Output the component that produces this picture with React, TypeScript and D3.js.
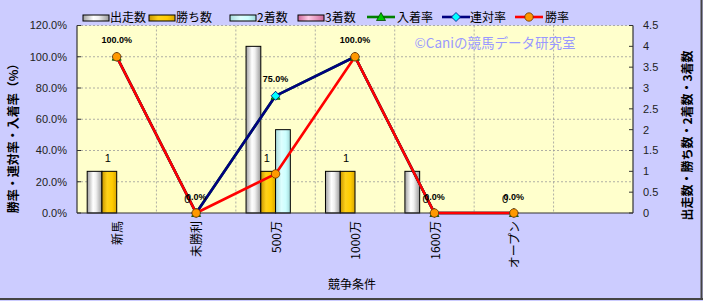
import React from "react";
import * as d3 from "d3";

const categories = ["新馬", "未勝利", "500万", "1000万", "1600万", "オープン", ""];
const startsCount = [1, 0, 4, 1, 1, 0, null];
const winsCount = [1, 0, 1, 1, 0, 0, null];
const secondCount = [0, 0, 2, 0, 0, 0, null];
const thirdCount = [0, 0, 0, 0, 0, 0, null];
const placeRate = [100, 0, 75, 100, 0, 0, null];
const quinellaRate = [100, 0, 75, 100, 0, 0, null];
const winRate = [100, 0, 25, 100, 0, 0, null];
const leftTicks = [0, 20, 40, 60, 80, 100, 120];
const rightTicks = [0, 0.5, 1, 1.5, 2, 2.5, 3, 3.5, 4, 4.5];

const W = 703;
const H = 301;
const L = 77;
const R = 633;
const T = 25.5;
const B = 213;

const JP = "'MS PGothic','Noto Sans CJK JP',sans-serif";
const NUM = "'Liberation Sans',Arial,sans-serif";

export default function App() {
  const x = d3.scaleBand<string>().domain(categories.map((c, i) => String(i))).range([L, R]).padding(0);
  const bw = x.bandwidth();
  const barSeries = ["s", "w", "2", "3"];
  const inner = d3.scaleBand<string>().domain(barSeries).range([0, bw]).paddingInner(0).paddingOuter(0.69);
  const yL = d3.scaleLinear().domain([0, 120]).range([B, T]);
  const yR = d3.scaleLinear().domain([0, 4.5]).range([B, T]);
  const cx = (i: number) => (x(String(i)) as number) + bw / 2;

  const barData = [
    { key: "s", vals: startsCount, fill: "url(#gWhite)" },
    { key: "w", vals: winsCount, fill: "url(#gGold)" },
    { key: "2", vals: secondCount, fill: "url(#gCyan)" },
    { key: "3", vals: thirdCount, fill: "url(#gPink)" },
  ];

  const lineGen = d3
    .line<number | null>()
    .defined((d) => d !== null)
    .x((_, i) => cx(i))
    .y((d) => yL(d as number));

  const lines = [
    { vals: placeRate, color: "#008000", marker: "tri" },
    { vals: quinellaRate, color: "#000080", marker: "dia" },
    { vals: winRate, color: "#FF0000", marker: "circ" },
  ];

  const marker = (type: string, px: number, py: number, key: string) => {
    if (type === "tri")
      return <path key={key} d={`M${px},${py - 4.5}L${px + 4.5},${py + 3.5}L${px - 4.5},${py + 3.5}Z`} fill="#00CC00" stroke="#004400" strokeWidth={0.8} />;
    if (type === "dia")
      return <path key={key} d={`M${px},${py - 4.5}L${px + 4.5},${py}L${px},${py + 4.5}L${px - 4.5},${py}Z`} fill="#00FFFF" stroke="#000080" strokeWidth={0.8} />;
    return <circle key={key} cx={px} cy={py} r={4.2} fill="#FF9900" stroke="#663300" strokeWidth={0.8} />;
  };

  const legendBars = [
    { x: 83, tx: 110, label: "出走数", fill: "url(#gWhite)" },
    { x: 149, tx: 176, label: "勝ち数", fill: "url(#gGold)" },
    { x: 230, tx: 257, label: "2着数", fill: "url(#gCyan)" },
    { x: 298, tx: 325, label: "3着数", fill: "url(#gPink)" },
  ];
  const legendLines = [
    { x: 367, tx: 397, label: "入着率", color: "#008000", marker: "tri" },
    { x: 442, tx: 470, label: "連対率", color: "#000080", marker: "dia" },
    { x: 515, tx: 545, label: "勝率", color: "#FF0000", marker: "circ" },
  ];
  const ly = 18;

  return (
    <svg width={W} height={H} style={{ position: "absolute", left: 0, top: 0 }}>
      <defs>
        <linearGradient id="gWhite" x1="0" x2="1" y1="0" y2="0">
          <stop offset="0" stopColor="#A0A0A0" />
          <stop offset="0.4" stopColor="#FFFFFF" />
          <stop offset="0.6" stopColor="#F0F0F0" />
          <stop offset="1" stopColor="#9A9A9A" />
        </linearGradient>
        <linearGradient id="gGold" x1="0" x2="1" y1="0" y2="0">
          <stop offset="0" stopColor="#C89600" />
          <stop offset="0.35" stopColor="#FFD21A" />
          <stop offset="0.7" stopColor="#FFCC00" />
          <stop offset="1" stopColor="#D9A600" />
        </linearGradient>
        <linearGradient id="gCyan" x1="0" x2="1" y1="0" y2="0">
          <stop offset="0" stopColor="#A8DCDC" />
          <stop offset="0.4" stopColor="#DDFFFF" />
          <stop offset="0.7" stopColor="#CCFFFF" />
          <stop offset="1" stopColor="#A0D8D8" />
        </linearGradient>
        <linearGradient id="gPink" x1="0" x2="1" y1="0" y2="0">
          <stop offset="0" stopColor="#CC6699" />
          <stop offset="0.4" stopColor="#FFCCE6" />
          <stop offset="1" stopColor="#CC6699" />
        </linearGradient>
      </defs>

      <rect x={0} y={0} width={W} height={H} fill="#CCCCFF" />
      <line x1={W - 1.5} y1={0} x2={W - 1.5} y2={H - 1} stroke="#444" strokeWidth={2} />
      <line x1={0} y1={H - 2} x2={W} y2={H - 2} stroke="#444" strokeWidth={2} />

      <rect x={L} y={T} width={R - L} height={B - T} fill="#FFFFCC" />

      {leftTicks.filter((t) => t > 0).map((t) => (
        <line key={"hg" + t} x1={L} x2={R} y1={yL(t)} y2={yL(t)} stroke="#9A9A9A" strokeWidth={0.8} strokeDasharray="2,2" />
      ))}
      {categories.slice(1).map((_, i) => {
        const gx = x(String(i + 1)) as number;
        return <line key={"vg" + i} x1={gx} x2={gx} y1={T} y2={B} stroke="#9A9A9A" strokeWidth={0.8} strokeDasharray="2,2" />;
      })}

      {barData.map((s) =>
        s.vals.map((v, i) => {
          if (v === null || v === 0) return null;
          const bx = (x(String(i)) as number) + (inner(s.key) as number);
          return (
            <rect key={s.key + i} x={bx} y={yR(v)} width={inner.bandwidth()} height={B - yR(v)} fill={s.fill} stroke="#000" strokeWidth={1} />
          );
        })
      )}

      <line x1={L} x2={L} y1={T} y2={B} stroke="#333" strokeWidth={1.2} />
      <line x1={R} x2={R} y1={T} y2={B} stroke="#333" strokeWidth={1.2} />
      <line x1={L} x2={R} y1={B} y2={B} stroke="#333" strokeWidth={1.2} />
      {leftTicks.map((t) => (
        <line key={"lt" + t} x1={L} x2={L + 4} y1={yL(t)} y2={yL(t)} stroke="#333" />
      ))}
      {rightTicks.map((t) => (
        <line key={"rt" + t} x1={R - 4} x2={R} y1={yR(t)} y2={yR(t)} stroke="#333" />
      ))}

      {lines.map((s, k) => (
        <path key={"ln" + k} d={lineGen(s.vals) || ""} fill="none" stroke={s.color} strokeWidth={2.6} strokeLinejoin="round" />
      ))}
      {lines.map((s, k) => s.vals.map((v, i) => (v === null ? null : marker(s.marker, cx(i), yL(v), "m" + k + "_" + i))))}

      {winsCount.map((v, i) =>
        v === null ? null : (
          <text key={"wl" + i} x={(x(String(i)) as number) + (inner("w") as number) + inner.bandwidth() / 2 - 1.5} y={yR(v) - 13.4} dy="0.35em" textAnchor="middle" fontFamily={NUM} fontSize={11} fill="#000">
            {v}
          </text>
        )
      )}

      {quinellaRate.map((v, i) =>
        v === null ? null : (
          <text key={"ql" + i} x={cx(i)} y={yL(v) - 16.5} dy="0.35em" textAnchor="middle" fontFamily={NUM} fontWeight="bold" fontSize={9} fill="#000">
            {d3.format(".1f")(v) + "%"}
          </text>
        )
      )}

      {leftTicks.map((t) => (
        <text key={"ll" + t} x={67} y={yL(t)} dy="0.35em" textAnchor="end" fontFamily={NUM} fontSize={11} fill="#222">
          {d3.format(".1f")(t) + "%"}
        </text>
      ))}
      {rightTicks.map((t) => (
        <text key={"rl" + t} x={643} y={yR(t)} dy="0.35em" textAnchor="start" fontFamily={NUM} fontSize={11} fill="#222">
          {String(t)}
        </text>
      ))}

      {categories.map((c, i) => (
        <text key={"cl" + i} transform={`translate(${cx(i) + 1},${221}) rotate(-90)`} dy="0.35em" textAnchor="end" fontFamily={JP} fontSize={12} fill="#000">
          {c}
        </text>
      ))}

      <text x={352} y={285} dy="0.35em" textAnchor="middle" fontFamily={JP} fontSize={12} fill="#000">
        競争条件
      </text>
      <text transform={`translate(14,135.5) rotate(-90)`} dy="0.35em" textAnchor="middle" fontFamily={JP} fontWeight="bold" fontSize={12} fill="#000">
        勝率・連対率・入着率（%）
      </text>
      <text transform={`translate(688,135.5) rotate(-90)`} dy="0.35em" textAnchor="middle" fontFamily={JP} fontWeight="bold" fontSize={12} fill="#000">
        出走数・勝ち数・2着数・3着数
      </text>

      <text x={495} y={43} dy="0.35em" textAnchor="middle" fontFamily={JP} fontSize={13.5} fill="#9999FF">
        ©Caniの競馬データ研究室
      </text>

      {legendBars.map((l, i) => (
        <g key={"lb" + i}>
          <rect x={l.x} y={ly - 3} width={26} height={6} fill={l.fill} stroke="#000" strokeWidth={1} />
          <text x={l.tx} y={ly} dy="0.35em" fontFamily={JP} fontSize={12} fill="#000">
            {l.label}
          </text>
        </g>
      ))}
      {legendLines.map((l, i) => (
        <g key={"ll2" + i}>
          <line x1={l.x} x2={l.x + 28} y1={ly - 1} y2={ly - 1} stroke={l.color} strokeWidth={2.6} />
          {marker(l.marker, l.x + 14, ly - 1, "lm" + i)}
          <text x={l.tx} y={ly} dy="0.35em" fontFamily={JP} fontSize={12} fill="#000">
            {l.label}
          </text>
        </g>
      ))}
    </svg>
  );
}
